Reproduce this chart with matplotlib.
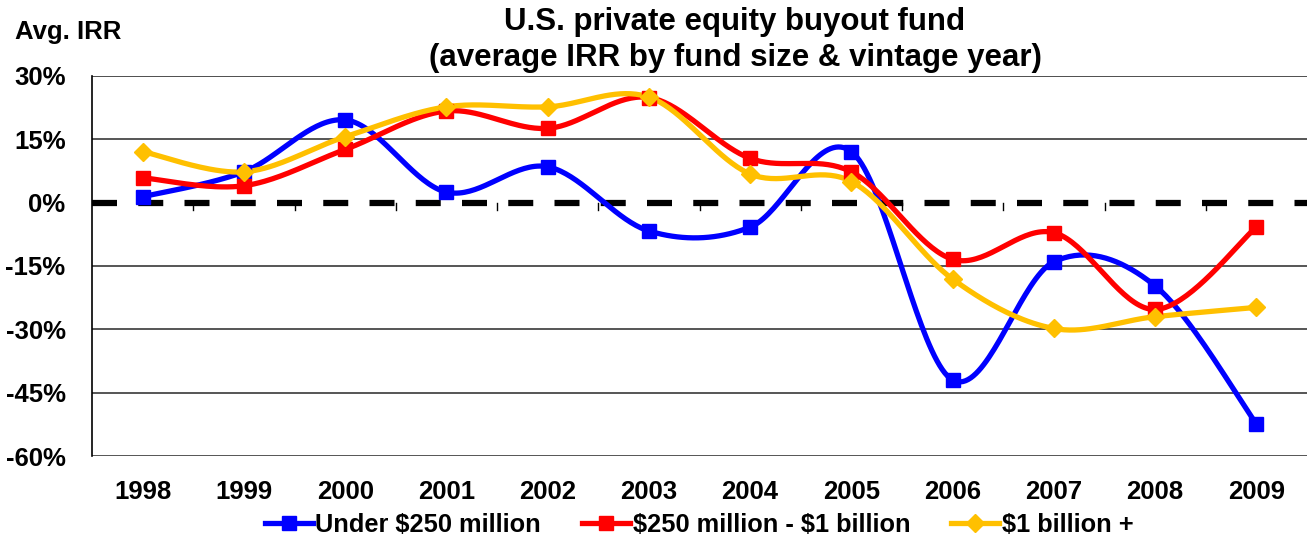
import numpy as np
import matplotlib
matplotlib.use("Agg")
import matplotlib.pyplot as plt
from matplotlib.lines import Line2D

years = ["1998", "1999", "2000", "2001", "2002", "2003", "2004", "2005", "2006", "2007", "2008", "2009"]
under_250m = [1.4, 7.3, 19.6, 2.5, 8.5, -6.7, -5.8, 12.1, -42.0, -14.0, -19.7, -52.4]
mid_250m_1b = [5.9, 4.0, 12.6, 21.7, 17.6, 24.9, 10.5, 7.3, -13.4, -7.1, -25.3, -5.8]
over_1b = [12.1, 7.3, 15.6, 22.7, 22.7, 25.0, 6.8, 5.0, -18.1, -29.8, -27.0, -24.8]
yticks = [30, 15, 0, -15, -30, -45, -60]
series_names = ["Under $250 million", "$250 million - $1 billion", "$1 billion +"]

plt.rcParams['font.family'] = ['Liberation Sans', 'DejaVu Sans']
plt.rcParams['font.weight'] = 'bold'
plt.rcParams['text.parse_math'] = False

W, H = 1307, 541
fig = plt.figure(figsize=(W / 100, H / 100), dpi=100)
ax = fig.add_axes([92 / W, 1 - 456 / H, (1307 - 92) / W, (456 - 76) / H])


def smooth(xs, ys, n=40):
    P = np.column_stack([xs, ys]).astype(float)
    out = [P[0]]
    for i in range(len(P) - 1):
        p0 = P[i - 1] if i > 0 else P[i]
        p1 = P[i]
        p2 = P[i + 1]
        p3 = P[i + 2] if i + 2 < len(P) else P[i + 1]
        c1 = p1 + (p2 - p0) / 6
        c2 = p2 - (p3 - p1) / 6
        t = np.linspace(0, 1, n)[1:, None]
        seg = (1 - t) ** 3 * p1 + 3 * (1 - t) ** 2 * t * c1 + 3 * (1 - t) * t ** 2 * c2 + t ** 3 * p2
        out.extend(seg)
    out = np.array(out)
    return out[:, 0], out[:, 1]


x = np.arange(len(years))
styles = [
    (under_250m, "#0000FF", "s", 10),
    (mid_250m_1b, "#FF0000", "s", 10),
    (over_1b, "#FFC000", "D", 9.5),
]

for yy in yticks:
    if yy == 30:
        ax.axhline(yy, color="#303030", lw=1.2, zorder=1)
    elif yy != 0:
        ax.axhline(yy, color="#555555", lw=1.4, zorder=1)
ax.axhline(0, color="black", lw=4.5, dashes=(4.0, 3.4), zorder=2)

handles = []
for (vals, col, mk, ms), name in zip(styles, series_names):
    sx, sy = smooth(x, vals)
    ax.plot(sx, sy, color=col, lw=3.8, zorder=3, solid_capstyle="round")
    ax.plot(x, vals, linestyle="none", marker=mk, markersize=ms, color=col,
            markeredgecolor=col, zorder=4)
    handles.append(Line2D([0], [0], color=col, lw=3.8, marker=mk, markersize=ms,
                          markeredgecolor=col))

ax.set_xlim(-0.5, len(years) - 0.5)
ax.set_ylim(-60, 30)
ax.set_yticks(yticks)
ax.set_yticklabels([f"{v}%" for v in yticks], fontsize=18.5, fontweight="bold")
ax.tick_params(axis="y", length=0, pad=19)

for s in ["top", "right", "bottom"]:
    ax.spines[s].set_visible(False)
ax.spines["left"].set_color("black")
ax.spines["left"].set_linewidth(1.2)

ax.set_xticks(x)
ax.set_xticklabels(years, fontsize=18.5, fontweight="bold")
ax.tick_params(axis="x", length=0, pad=17)
# category-separator tick marks on the zero line
for b in np.arange(0.5, len(years) - 0.5, 1.0):
    ax.plot([b, b], [0, -1.8], color="black", lw=1.0, zorder=2)

fig.text(735 / W, 1 - 40 / H, "U.S. private equity buyout fund\n(average IRR by fund size & vintage year)",
         ha="center", va="center", fontsize=22.5, fontweight="bold", linespacing=1.25)
fig.text(15 / W, 1 - 32 / H, "Avg. IRR", ha="left", va="center", fontsize=18.5, fontweight="bold")

fig.legend(handles, series_names, loc="center", bbox_to_anchor=(699 / W, 1 - 525 / H),
           ncol=3, frameon=False, handlelength=1.9, handletextpad=0.1,
           columnspacing=1.6, prop={"weight": "bold", "size": 18.3})

fig.savefig("out.png", dpi=100)
